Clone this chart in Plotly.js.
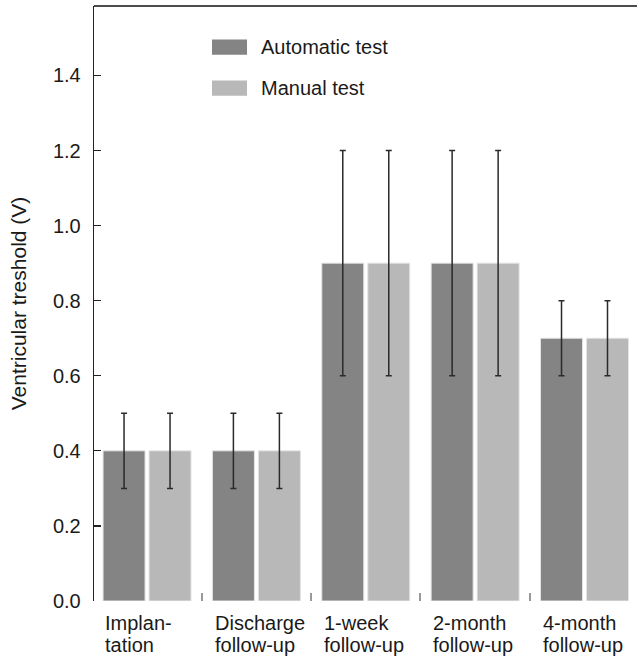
<!DOCTYPE html>
<html>
<head>
<meta charset="utf-8">
<script src="https://cdn.plot.ly/plotly-3.0.1.min.js"></script>
<style>html,body{margin:0;padding:0;background:#fff;}#chart{width:637px;height:658px;}</style>
</head>
<body>
<div id="chart"></div>
<script>
// ---- data ----
var categoryIndex = [0, 1, 2, 3, 4];
var labelLine1 = ['Implan-', 'Discharge', '1-week', '2-month', '4-month'];
var labelLine2 = ['tation', 'follow-up', 'follow-up', 'follow-up', 'follow-up'];
var seriesNames = ['Automatic test', 'Manual test'];
var automaticValues = [0.4, 0.4, 0.9, 0.9, 0.7];
var automaticErrors = [0.1, 0.1, 0.3, 0.3, 0.1];
var manualValues = [0.4, 0.4, 0.9, 0.9, 0.7];
var manualErrors = [0.1, 0.1, 0.3, 0.3, 0.1];
var yTickValues = [0, 0.2, 0.4, 0.6, 0.8, 1.0, 1.2, 1.4];
var yTickLabels = ['0.0', '0.2', '0.4', '0.6', '0.8', '1.0', '1.2', '1.4'];
var groupDividers = [0.5, 1.5, 2.5, 3.5];

var colors = ['#848484', '#b8b8b8'];
var FONT = 'Liberation Sans, Arial, Helvetica, sans-serif';

function barTrace(name, vals, errs, color) {
  return {
    type: 'bar', name: name, x: categoryIndex, y: vals,
    marker: {color: color, line: {color: '#e4e4e4', width: 1}},
    error_y: {type: 'data', array: errs, visible: true, color: '#2a2a2a', thickness: 1.5, width: 3},
    showlegend: false, hoverinfo: 'skip'
  };
}

var data = [
  barTrace(seriesNames[0], automaticValues, automaticErrors, colors[0]),
  barTrace(seriesNames[1], manualValues, manualErrors, colors[1])
];

var annotations = [];
categoryIndex.forEach(function (c, i) {
  annotations.push({x: c - 0.40, xref: 'x', xanchor: 'left', y: 0, yref: 'paper', yanchor: 'top', yshift: -9,
    text: labelLine1[i], showarrow: false, align: 'left', font: {family: FONT, size: 20, color: '#1a1a1a'}});
  annotations.push({x: c - 0.40, xref: 'x', xanchor: 'left', y: 0, yref: 'paper', yanchor: 'top', yshift: -31,
    text: labelLine2[i], showarrow: false, align: 'left', font: {family: FONT, size: 20, color: '#1a1a1a'}});
});

// legend drawn as shapes + text
var legendY = [0.931, 0.862];
var shapes = [
  {type: 'line', xref: 'paper', yref: 'paper', x0: 0, x1: 1, y0: 1, y1: 1, line: {color: '#111', width: 1.6}}
];
seriesNames.forEach(function (n, i) {
  shapes.push({type: 'rect', xref: 'paper', yref: 'paper', x0: 0.2173, x1: 0.2818,
    y0: legendY[i] - 0.0128, y1: legendY[i] + 0.0128, fillcolor: colors[i], line: {width: 0}});
  annotations.push({x: 0.304, xref: 'paper', xanchor: 'left', y: legendY[i], yref: 'paper', yanchor: 'middle',
    text: n, showarrow: false, font: {family: FONT, size: 20, color: '#1a1a1a'}});
});

var layout = {
  width: 637, height: 658,
  margin: {l: 94, r: 0, t: 6, b: 57, pad: 0},
  paper_bgcolor: '#fff', plot_bgcolor: '#fff',
  barmode: 'group', bargap: 0.159, bargroupgap: 0.087,
  font: {family: FONT, color: '#1a1a1a'},
  xaxis: {
    range: [-0.485, 4.48], showline: false, zeroline: false, showgrid: false,
    tickmode: 'array', tickvals: groupDividers, ticks: 'inside', ticklen: 8, tickwidth: 2, tickcolor: '#999',
    showticklabels: false, fixedrange: true
  },
  yaxis: {
    range: [0, 1.585], showline: true, linecolor: '#222', linewidth: 1.3, zeroline: false, showgrid: false,
    tickmode: 'array', tickvals: yTickValues, ticktext: yTickLabels,
    ticks: 'inside', ticklen: 7, tickwidth: 1.3, tickcolor: '#222',
    tickfont: {family: FONT, size: 20, color: '#1a1a1a'}, ticklabelstandoff: 8,
    title: {text: 'Ventricular treshold (V)', font: {family: FONT, size: 21, color: '#1a1a1a'}, standoff: 20},
    automargin: false, fixedrange: true
  },
  shapes: shapes,
  annotations: annotations,
  showlegend: false
};

Plotly.newPlot('chart', data, layout, {displayModeBar: false, staticPlot: true});
</script>
</body>
</html>
